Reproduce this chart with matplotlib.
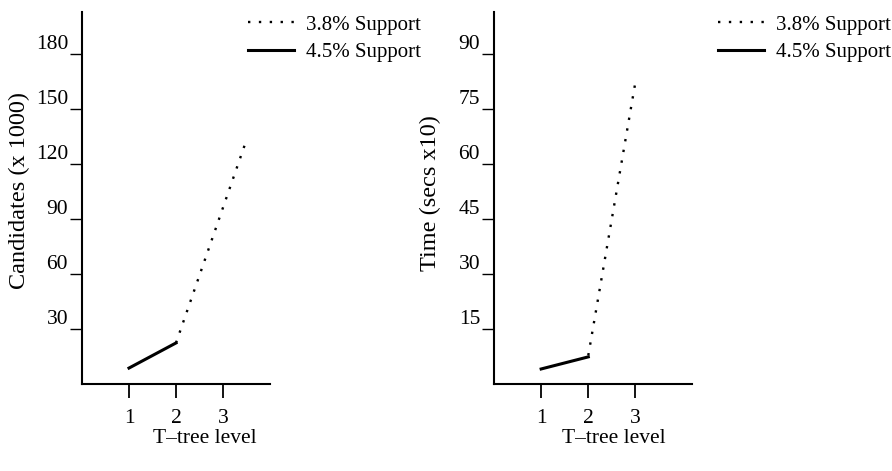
import matplotlib
matplotlib.use("Agg")
import matplotlib.pyplot as plt

# ---- data ----
levels_solid = [1, 2]
cand_45 = [8.7, 22.4]          # 4.5% support, candidates (x1000)
levels_dot_left = [2, 3.47]
cand_38 = [22.4, 131]          # 3.8% support, candidates (x1000)

time_45 = [4.1, 7.4]           # 4.5% support, time (secs x10)
levels_dot_right = [2, 3]
time_38 = [7.8, 82.4]          # 3.8% support, time (secs x10)

cand_ticks = [30, 60, 90, 120, 150, 180]
time_ticks = [15, 30, 45, 60, 75, 90]
level_ticks = [1, 2, 3]
series_labels = ["3.8% Support", "4.5% Support"]

plt.rcParams['font.family'] = ['Liberation Serif', 'DejaVu Serif']

fig = plt.figure(figsize=(8.92, 4.71), dpi=100)

W, H = 892.0, 471.0
def axrect(x0, x1, ytop, ybot):
    return [x0 / W, 1 - ybot / H, (x1 - x0) / W, (ybot - ytop) / H]

axL = fig.add_axes(axrect(82, 270, 12, 384))
axR = fig.add_axes(axrect(494, 692, 12, 384))

dot = (0, (1, 3.6))

def style(ax, yticks, ymax, xmax):
    for s in ('top', 'right'):
        ax.spines[s].set_visible(False)
    for s in ('left', 'bottom'):
        ax.spines[s].set_linewidth(1.5)
    ax.set_xlim(0, xmax)
    ax.set_ylim(0, ymax)
    ax.set_xticks(level_ticks)
    ax.set_xticklabels([str(v) for v in level_ticks])
    ax.set_yticks(yticks)
    ax.set_yticklabels([str(v) for v in yticks])
    ax.tick_params(axis='x', direction='out', length=10, width=1.3, pad=8, labelsize=15.5)
    ax.tick_params(axis='y', direction='out', length=8.5, width=1.0, pad=1.5, labelsize=15.5)
    for lab in ax.get_yticklabels():
        lab.set_va('bottom')

# Left chart
axL.plot(levels_dot_left, cand_38, color='black', lw=1.7, linestyle=dot, label=series_labels[0])
axL.plot(levels_solid, cand_45, color='black', lw=2.2, linestyle='-', label=series_labels[1])
style(axL, cand_ticks, 203, 4.0)
axL.set_ylabel("Candidates (x 1000)", fontsize=17.5)
axL.yaxis.label.set_va('center')
axL.yaxis.set_label_coords(-0.335, 0.52)
axL.set_xlabel("T\u2013tree level", fontsize=15.5)
axL.xaxis.label.set_va('center')
axL.xaxis.set_label_coords(0.654, -0.147)

# Right chart
axR.plot(levels_dot_right, time_38, color='black', lw=1.7, linestyle=dot, label=series_labels[0])
axR.plot(levels_solid, time_45, color='black', lw=2.2, linestyle='-', label=series_labels[1])
style(axR, time_ticks, 101.5, 4.2)
axR.set_ylabel("Time (secs x10)", fontsize=17.5)
axR.yaxis.label.set_va('center')
axR.yaxis.set_label_coords(-0.32, 0.513)
axR.set_xlabel("T\u2013tree level", fontsize=15.5)
axR.xaxis.label.set_va('center')
axR.xaxis.set_label_coords(0.606, -0.147)

for ax, x0 in ((axL, 248), (axR, 718)):
    ax.legend(loc='upper left', bbox_to_anchor=(x0 / W, 1 - 15 / H),
              bbox_transform=fig.transFigure, frameon=False, fontsize=15,
              handlelength=2.2, handletextpad=0.6, labelspacing=0.4,
              borderpad=0, borderaxespad=0)

fig.savefig("out.png", dpi=100)
